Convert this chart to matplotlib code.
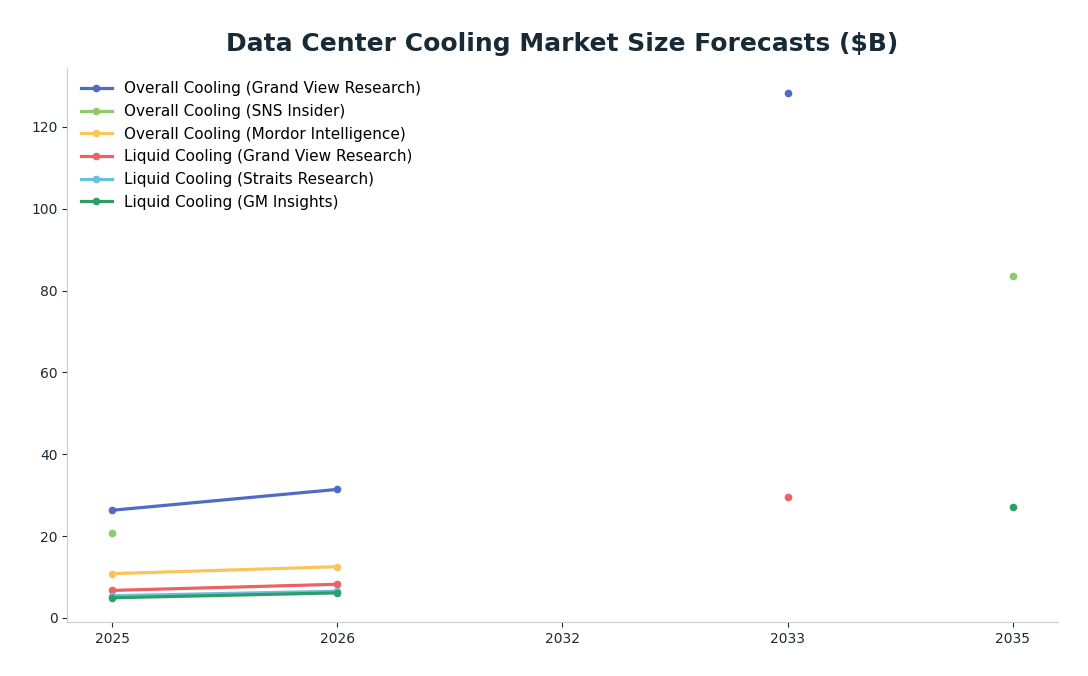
import numpy as np
import matplotlib.pyplot as plt

# --- DATA ---
years = ["2025", "2026", "2032", "2033", "2035"]
nan = np.nan
overall_gvr = [26.3, 31.4, nan, 128.3, nan]
overall_sns = [20.8, nan, nan, nan, 83.5]
overall_mordor = [10.8, 12.5, nan, nan, nan]
liquid_gvr = [6.7, 8.2, nan, 29.5, nan]
liquid_straits = [5.4, 6.5, nan, nan, nan]
liquid_gmi = [4.9, 6.1, nan, nan, 27.1]

series = [
    ("Overall Cooling (Grand View Research)", overall_gvr, "#4f6bc6"),
    ("Overall Cooling (SNS Insider)", overall_sns, "#8dcb6a"),
    ("Overall Cooling (Mordor Intelligence)", overall_mordor, "#f9c55a"),
    ("Liquid Cooling (Grand View Research)", liquid_gvr, "#ec6262"),
    ("Liquid Cooling (Straits Research)", liquid_straits, "#6bbfe3"),
    ("Liquid Cooling (GM Insights)", liquid_gmi, "#2e9e68"),
]

# --- PLOT ---
fig, ax = plt.subplots(figsize=(10.88, 6.76), dpi=100)
x = np.arange(len(years))
for label, vals, color in series:
    ax.plot(x, vals, marker="o", markersize=4.5, linewidth=2.3, color=color, label=label)

ax.set_xticks(x)
ax.set_xticklabels(years)
ax.set_xlim(-0.2, 4.2)
ax.set_ylim(-1, 134.5)
ax.set_yticks([0, 20, 40, 60, 80, 100, 120])
ax.tick_params(colors="#1a2a36", labelsize=10)
for s in ["top", "right"]:
    ax.spines[s].set_visible(False)
for s in ["left", "bottom"]:
    ax.spines[s].set_color("#cccccc")
ax.set_title("Data Center Cooling Market Size Forecasts ($B)", fontsize=18,
             fontweight="bold", color="#172a36", pad=12)
ax.legend(loc="upper left", frameon=False, fontsize=11)
plt.subplots_adjust(left=0.062, right=0.972, top=0.9, bottom=0.08)
plt.savefig("out.png")
